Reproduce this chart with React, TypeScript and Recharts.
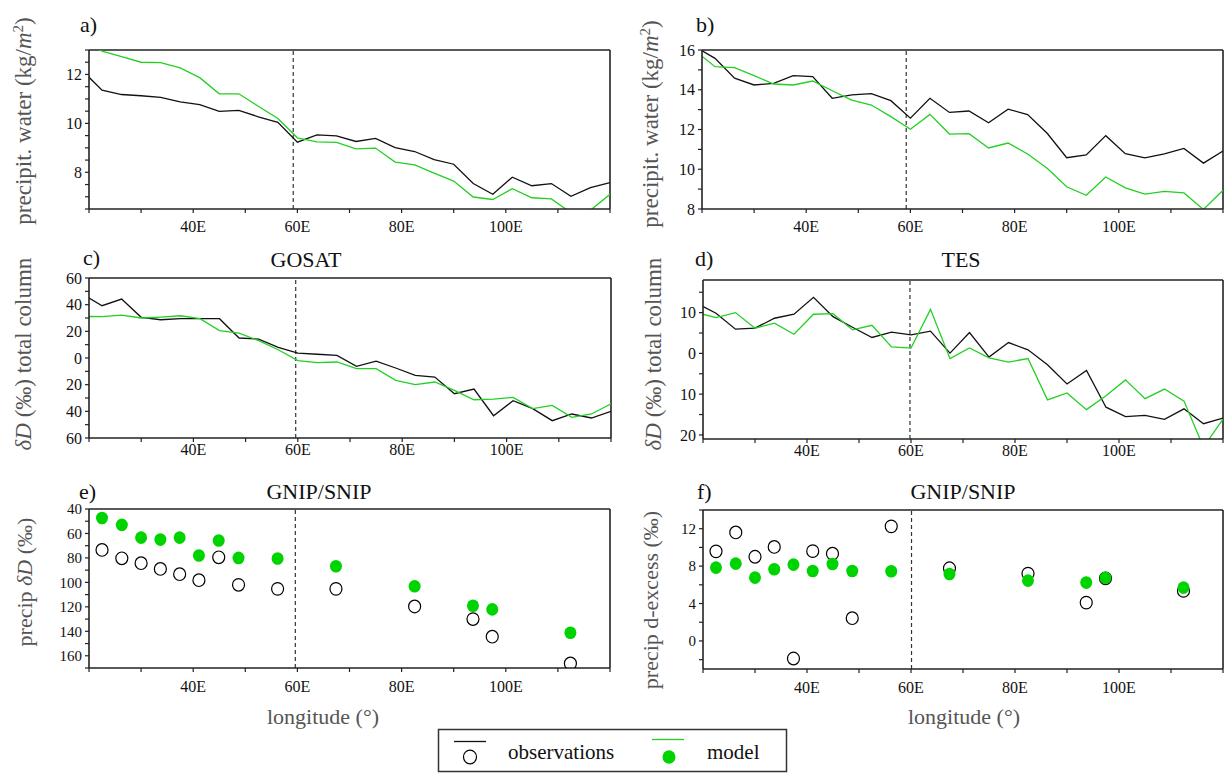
import React from "react";
import { ComposedChart, Line, Scatter, XAxis, YAxis, ReferenceLine } from "recharts";

// model grid longitudes (3.75 deg), first point lies just outside the 20E edge
const lon = [
  18.75, 22.5, 26.25, 30, 33.75, 37.5, 41.25, 45, 48.75, 52.5, 56.25, 60, 63.75, 67.5,
  71.25, 75, 78.75, 82.5, 86.25, 90, 93.75, 97.5, 101.25, 105, 108.75, 112.5, 116.25, 120,
];

// a) precipitable water, obs vs model
const pwObsA = [12.15, 11.36, 11.18, 11.13, 11.06, 10.88, 10.77, 10.49, 10.53, 10.27, 10.04, 9.23, 9.53, 9.49,
  9.26, 9.39, 9.01, 8.85, 8.52, 8.33, 7.54, 7.1, 7.8, 7.45, 7.54, 7.02, 7.37, 7.58];
const pwModA = [13.4, 12.95, 12.73, 12.5, 12.48, 12.27, 11.87, 11.21, 11.21, 10.7, 10.2, 9.41, 9.24, 9.22,
  8.96, 8.99, 8.42, 8.3, 7.97, 7.64, 6.99, 6.89, 7.33, 6.96, 6.91, 6.35, 6.45, 7.1];

// b) precipitable water
const pwObsB = [16.15, 15.58, 14.58, 14.24, 14.32, 14.71, 14.66, 13.57, 13.74, 13.8, 13.45, 12.57, 13.57, 12.86,
  12.93, 12.34, 13.02, 12.75, 11.81, 10.58, 10.72, 11.69, 10.78, 10.57, 10.77, 11.05, 10.31, 10.92];
const pwModB = [15.95, 15.16, 15.11, 14.71, 14.29, 14.24, 14.44, 13.95, 13.48, 13.23, 12.65, 12.01, 12.76, 11.77,
  11.79, 11.07, 11.32, 10.77, 10.05, 9.12, 8.69, 9.61, 9.06, 8.75, 8.89, 8.81, 7.98, 8.94];

// c) GOSAT total column dD
const gosatObs = [48, 39.2, 44.2, 30.5, 28.7, 29.5, 29.5, 29.5, 15, 14.2, 8, 3.6, 2.8, 2,
  -6.3, -2.3, -7.5, -13, -14.3, -26.8, -23.3, -43.3, -32, -38, -47, -42, -45, -40];
const gosatMod = [31.2, 31, 32.2, 30, 30.7, 31.7, 29.5, 20.5, 18.7, 13, 6.2, -2, -3.5, -3,
  -8, -8, -16.8, -20, -18, -24.3, -31.3, -30.8, -29.5, -38, -35.5, -44.5, -42, -34.3];

// d) TES total column dD
const tesObs = [12.3, 9.84, 5.93, 6.18, 8.62, 9.6, 13.75, 9, 6.4, 3.9, 5.2, 4.54, 5.45, 0.06,
  5.1, -0.9, 2.66, 0.87, -2.8, -7.5, -4.2, -13.2, -15.5, -15.2, -16.2, -13.6, -17.25, -15.85];
const tesMod = [10, 8.77, 10, 6.18, 7.4, 4.7, 9.6, 9.75, 5.76, 6.9, 1.6, 1.28, 10.8, -1.3,
  1.35, -1.1, -2.15, -1.27, -11.4, -9.7, -13.8, -10.4, -6.5, -11.1, -8.75, -11.7, -23, -16.1];

// e), f) GNIP/SNIP stations
const stationLon = [22.5, 26.3, 30.0, 33.7, 37.4, 41.1, 44.9, 48.7, 56.2, 67.4, 82.5, 93.7, 97.4, 112.4];
const dDObs = [-73.5, -80.3, -84.3, -89, -93.3, -98.2, -79.5, -102, -105.3, -105.3, -119.7, -130, -144.4, -166.3];
const dDMod = [-47.3, -53, -63.4, -65, -63.4, -78, -65.8, -80, -80.5, -86.8, -103.1, -119.1, -122.1, -141.2];
const dexObs = [9.58, 11.6, 9.0, 10.05, -1.88, 9.6, 9.33, 2.43, 12.25, 7.77, 7.2, 4.1, 6.7, 5.35];
const dexMod = [7.84, 8.27, 6.77, 7.66, 8.16, 7.48, 8.23, 7.48, 7.45, 7.16, 6.45, 6.24, 6.74, 5.7];

const lonTicks = [20, 30, 40, 50, 60, 70, 80, 90, 100, 110, 120];
const lonLabelled = [40, 60, 80, 100];

const FONT = "'Times New Roman', Times, 'Liberation Serif', 'Nimbus Roman', 'DejaVu Serif', serif";
const AXIS = "#222";
const OBS = "#111";
const MOD_LINE = "#22d022";
const MOD_DOT = "#00d400";
const TITLE_GREY = "#555";

const lineRows = (obs: number[], mod: number[]) => lon.map((l, i) => ({ lon: l, obs: obs[i], model: mod[i] }));
const pointRows = (vals: number[]) => stationLon.map((l, i) => ({ lon: l, v: vals[i] }));

const OpenDot = (p: any) =>
  p.cx == null ? null : <ellipse cx={p.cx} cy={p.cy} rx={6} ry={6.3} fill="none" stroke="#000" strokeWidth={1.2} />;
const FullDot = (p: any) =>
  p.cx == null ? null : <ellipse cx={p.cx} cy={p.cy} rx={6} ry={6.3} fill={MOD_DOT} stroke="none" />;

type PanelProps = {
  left: number; top: number; width: number; height: number;
  yDomain: [number, number]; yTicks: number[]; yMajor: number[];
  dash: number; xTickMargin: number; data?: any[]; yFont?: number;
  children: React.ReactNode;
};

function Panel({ left, top, width, height, yDomain, yTicks, yMajor, dash, xTickMargin, data, yFont = 16, children }: PanelProps) {
  return (
    <div style={{ position: "absolute", left: left - 60, top: top - 10 }}>
      <ComposedChart width={width + 62} height={height + 40} data={data}
        margin={{ top: 10, right: 2, bottom: 0, left: 0 }}>
        <XAxis type="number" dataKey="lon" domain={[20, 120]} allowDataOverflow ticks={lonTicks} interval={0}
          tickFormatter={(v) => (lonLabelled.includes(v) ? `${v}E` : "")}
          height={30} tickSize={4} tickMargin={xTickMargin}
          axisLine={{ stroke: AXIS, strokeWidth: 1.6 }} tickLine={{ stroke: AXIS, strokeWidth: 1.2 }}
          tick={{ fill: "#111", fontSize: 16, fontFamily: FONT }} />
        <YAxis type="number" domain={yDomain} allowDataOverflow ticks={yTicks} interval={0}
          tickFormatter={(v) => (yMajor.includes(v) ? String(Math.abs(v)) : "")}
          width={60} tickSize={4} tickMargin={3}
          axisLine={{ stroke: AXIS, strokeWidth: 1.6 }} tickLine={{ stroke: AXIS, strokeWidth: 1.2 }}
          tick={{ fill: "#111", fontSize: yFont, fontFamily: FONT }} />
        <ReferenceLine y={yDomain[1]} stroke={AXIS} strokeWidth={1.6} />
        <ReferenceLine x={120} stroke={AXIS} strokeWidth={1.6} />
        <ReferenceLine x={dash} stroke="#333" strokeWidth={1.2} strokeDasharray="4 3" />
        {children}
      </ComposedChart>
    </div>
  );
}

function Txt({ x, y, size = 22, color = "#111", rotate = false, center = true, children }: any) {
  const t = center ? "translate(-50%,-50%)" : "translate(0,-50%)";
  return (
    <div style={{
      position: "absolute", left: x, top: y, transform: rotate ? `${t} rotate(-90deg)` : t,
      fontSize: size, color, whiteSpace: "nowrap", lineHeight: 1, fontFamily: FONT,
    }}>{children}</div>
  );
}

const seriesLines = [
  <Line key="o" type="linear" dataKey="obs" stroke={OBS} strokeWidth={1.3} dot={false} isAnimationActive={false} />,
  <Line key="m" type="linear" dataKey="model" stroke={MOD_LINE} strokeWidth={1.3} dot={false} isAnimationActive={false} />,
];

export default function App() {
  const pwUnit = <>precipit. water (kg/<i>m</i><sup style={{ fontSize: "0.65em" }}>2</sup>)</>;
  const dDcol = <><i>δD</i> (‰) total column</>;
  return (
    <div style={{ position: "absolute", left: 0, top: 0, width: 1224, height: 774, overflow: "hidden", background: "#fff", fontFamily: FONT }}>
      <Panel left={89} top={50} width={521} height={159} yDomain={[6.5, 13]} dash={59.2} xTickMargin={8}
        yTicks={[6.5, 7, 7.5, 8, 8.5, 9, 9.5, 10, 10.5, 11, 11.5, 12, 12.5, 13]} yMajor={[8, 10, 12]}
        data={lineRows(pwObsA, pwModA)}>{seriesLines}</Panel>
      <Panel left={702} top={50} width={521} height={159} yDomain={[8, 16]} dash={59.2} xTickMargin={8}
        yTicks={[8, 9, 10, 11, 12, 13, 14, 15, 16]} yMajor={[8, 10, 12, 14, 16]}
        data={lineRows(pwObsB, pwModB)}>{seriesLines}</Panel>
      <Panel left={89} top={278} width={522} height={160} yDomain={[-60, 60]} dash={59.6} xTickMargin={2}
        yTicks={[-60, -50, -40, -30, -20, -10, 0, 10, 20, 30, 40, 50, 60]} yMajor={[-60, -40, -20, 0, 20, 40, 60]}
        data={lineRows(gosatObs, gosatMod)}>{seriesLines}</Panel>
      <Panel left={703} top={280} width={520} height={159} yDomain={[-21, 18]} dash={59.8} xTickMargin={2}
        yTicks={[-20, -15, -10, -5, 0, 5, 10, 15]} yMajor={[-20, -10, 0, 10]}
        data={lineRows(tesObs, tesMod)}>{seriesLines}</Panel>
      <Panel left={89} top={509} width={521} height={159} yDomain={[-170, -40]} dash={59.6} xTickMargin={9} yFont={15}
        yTicks={[-170, -160, -150, -140, -130, -120, -110, -100, -90, -80, -70, -60, -50, -40]}
        yMajor={[-160, -140, -120, -100, -80, -60, -40]}>
        <Scatter data={pointRows(dDObs)} dataKey="v" shape={OpenDot} isAnimationActive={false} />
        <Scatter data={pointRows(dDMod)} dataKey="v" shape={FullDot} isAnimationActive={false} />
      </Panel>
      <Panel left={703} top={510} width={520} height={159} yDomain={[-3, 14]} dash={60.1} xTickMargin={9} yFont={15}
        yTicks={[-2, 0, 2, 4, 6, 8, 10, 12, 14]} yMajor={[0, 4, 8, 12]}>
        <Scatter data={pointRows(dexObs)} dataKey="v" shape={OpenDot} isAnimationActive={false} />
        <Scatter data={pointRows(dexMod)} dataKey="v" shape={FullDot} isAnimationActive={false} />
      </Panel>

      {/* panel letters and titles */}
      <Txt x={80} y={25} center={false}>a)</Txt>
      <Txt x={696} y={25} center={false}>b)</Txt>
      <Txt x={83} y={258} center={false}>c)</Txt>
      <Txt x={695} y={259} center={false}>d)</Txt>
      <Txt x={79} y={492} center={false}>e)</Txt>
      <Txt x={697} y={492} center={false}>f)</Txt>
      <Txt x={306} y={260}>GOSAT</Txt>
      <Txt x={961} y={260}>TES</Txt>
      <Txt x={319} y={492}>GNIP/SNIP</Txt>
      <Txt x={963} y={492}>GNIP/SNIP</Txt>

      {/* axis titles */}
      <Txt x={23} y={121} size={23} rotate color={TITLE_GREY}>{pwUnit}</Txt>
      <Txt x={650} y={124} size={23} rotate color={TITLE_GREY}>{pwUnit}</Txt>
      <Txt x={23} y={354} size={23} rotate color={TITLE_GREY}>{dDcol}</Txt>
      <Txt x={653} y={354} size={23} rotate color={TITLE_GREY}>{dDcol}</Txt>
      <Txt x={25} y={582} size={22} rotate color={TITLE_GREY}>precip <i>δD</i> (‰)</Txt>
      <Txt x={651} y={600} size={22} rotate color={TITLE_GREY}>precip d-excess (‰)</Txt>
      <Txt x={323} y={717} color={TITLE_GREY}>longitude (°)</Txt>
      <Txt x={964} y={717} color={TITLE_GREY}>longitude (°)</Txt>

      {/* legend */}
      <svg style={{ position: "absolute", left: 0, top: 0 }} width={1224} height={774}>
        <rect x={438.5} y={729.5} width={348} height={42} fill="none" stroke="#333" strokeWidth={1.5} />
        <line x1={454} x2={486} y1={741.5} y2={741.5} stroke={OBS} strokeWidth={1.3} />
        <ellipse cx={470} cy={757} rx={6.5} ry={6.8} fill="none" stroke="#000" strokeWidth={1.2} />
        <text x={508} y={759} fontSize={21} fontFamily={FONT} fill="#111">observations</text>
        <line x1={652} x2={684} y1={739.5} y2={739.5} stroke={MOD_LINE} strokeWidth={1.3} />
        <ellipse cx={669} cy={757} rx={6.5} ry={6.8} fill={MOD_DOT} />
        <text x={707} y={759} fontSize={21} fontFamily={FONT} fill="#111">model</text>
      </svg>
    </div>
  );
}
